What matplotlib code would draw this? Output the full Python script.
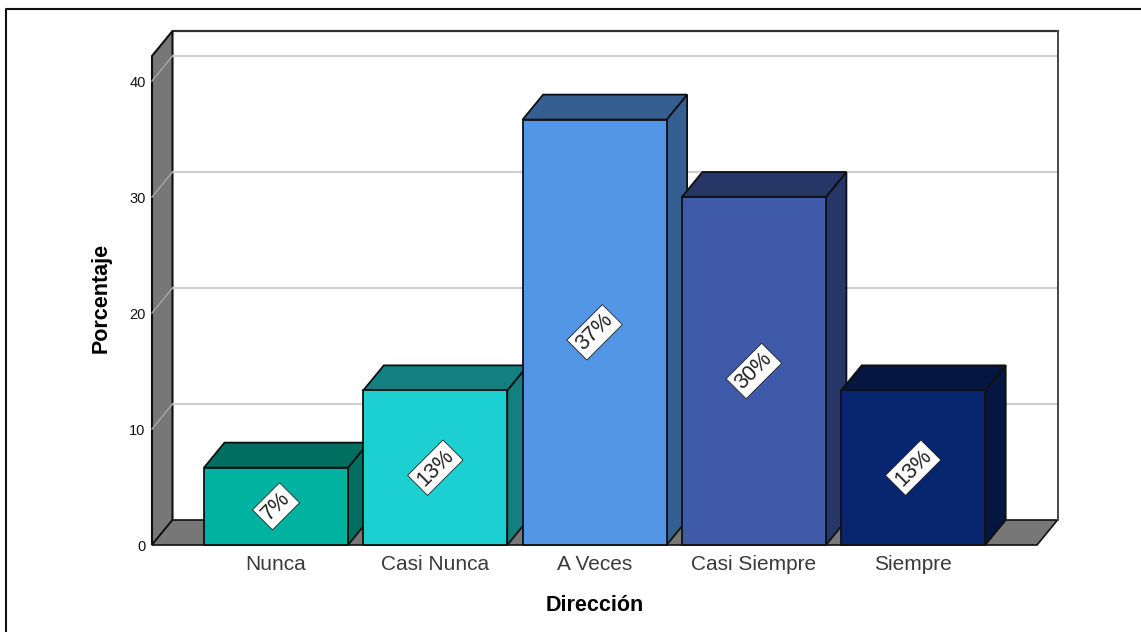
import matplotlib
matplotlib.use("Agg")
import matplotlib.pyplot as plt
from matplotlib.patches import Polygon, Rectangle
from matplotlib.transforms import ScaledTranslation

plt.rcParams["font.family"] = ["Liberation Sans", "DejaVu Sans"]

categories = ["Nunca", "Casi Nunca", "A Veces", "Casi Siempre", "Siempre"]
percentages = [6.67, 13.33, 36.67, 30.0, 13.33]
labels = ["7%", "13%", "37%", "30%", "13%"]
y_ticks = [0, 10, 20, 30, 40]
front_colors = ["#00b3a0", "#1ccfd0", "#5496e6", "#3f5aa8", "#08266f"]
top_colors = ["#006f62", "#128080", "#345f90", "#253667", "#051640"]
side_colors = ["#006f62", "#128080", "#345f90", "#253667", "#051640"]

W, H = 1141, 632
fig = plt.figure(figsize=(W / 100, H / 100), dpi=100, facecolor="white")

# Axes box spans the front plane of the chart, in pixel fractions
left_px, right_px, top_px, base_px = 152, 1037, 56, 545
ax = fig.add_axes([left_px / W, 1 - base_px / H, (right_px - left_px) / W, (base_px - top_px) / H])
px_per_cat = 159.3
px_per_unit = 11.6
ax.set_xlim((left_px - 276) / px_per_cat, (right_px - 276) / px_per_cat)
ax.set_ylim(0, (base_px - top_px) / px_per_unit)
for s in ax.spines.values():
    s.set_visible(False)
ax.patch.set_visible(False)

dx = 20.5 / px_per_cat
dy = 25 / px_per_unit
x0, x1 = ax.get_xlim()
y0, y1 = ax.get_ylim()
wall = "#777777"
edge = "#101010"


def add_poly(points, face, ec=edge, lw=1.3, z=1):
    ax.add_patch(Polygon(points, closed=True, facecolor=face, edgecolor=ec,
                         linewidth=lw, zorder=z, clip_on=False, joinstyle="miter"))


# Back wall, side wall and floor of the 3D box
ax.add_patch(Rectangle((x0 + dx, y0 + dy), x1 - x0, y1 - y0, facecolor="white",
                       edgecolor="none", zorder=0.5, clip_on=False))
ax.plot([x0 + dx, x1 + dx], [y1 + dy, y1 + dy], color="#303030", lw=1.6, zorder=1, clip_on=False)
ax.plot([x1 + dx, x1 + dx], [y0 + dy, y1 + dy], color="#484848", lw=1.4, zorder=1.3, clip_on=False)
add_poly([(x0, y0), (x0 + dx, y0 + dy), (x0 + dx, y1 + dy), (x0, y1)], wall, lw=1.5)
add_poly([(x0, y0), (x1, y0), (x1 + dx, y0 + dy), (x0 + dx, y0 + dy)], wall, lw=1.2)

# Gridlines run across the back wall and down the side wall
for t in y_ticks[1:]:
    ax.plot([x0 + dx, x1 + dx], [t + dy, t + dy], color="#d0d0d0", lw=1.6, zorder=1.2, clip_on=False)
    ax.plot([x0, x0 + dx], [t, t + dy], color="#a8a8a8", lw=1.0, zorder=1.2, clip_on=False)

# Bars, painted left to right so each one overlaps the side of the previous
width = 144 / px_per_cat
for i, v in enumerate(percentages):
    l, r = i - width / 2, i + width / 2
    z = 2 + i
    add_poly([(r, 0), (r + dx, dy), (r + dx, v + dy), (r, v)], side_colors[i], z=z)
    add_poly([(l, v), (r, v), (r + dx, v + dy), (l + dx, v + dy)], top_colors[i], z=z)
    add_poly([(l, 0), (r, 0), (r, v), (l, v)], front_colors[i], z=z)
    ax.text(i, v / 2, labels[i], rotation=45, ha="center", va="center",
            rotation_mode="anchor", fontsize=15.5, color="#222222", zorder=20,
            bbox=dict(boxstyle="square,pad=0.17", facecolor="white", edgecolor="#202020", linewidth=0.6))

ax.set_xticks(range(len(categories)), categories, fontsize=15, color="#3a3a3a")
ax.set_yticks(y_ticks, [str(t) for t in y_ticks], fontsize=10.5, color="#111111")
ax.tick_params(axis="both", length=0)
ax.tick_params(axis="x", pad=7.5)
ax.tick_params(axis="y", pad=4.5)
# Tick numbers sit slightly below their gridline ends
for lab in ax.get_yticklabels():
    lab.set_transform(lab.get_transform() + ScaledTranslation(0, -0.7 / 72, fig.dpi_scale_trans))
ax.set_xlabel("Dirección", fontsize=15.5, fontweight="bold", labelpad=15)
ax.set_ylabel("Porcentaje", fontsize=15.5, fontweight="bold", labelpad=12.5, y=0.505)

# Frame around the exported chart: top and left edges only
fig.add_artist(plt.Line2D([6 / W, 6 / W, 1], [0, 1 - 9 / H, 1 - 9 / H],
                          color="#111111", lw=1.5))

fig.savefig("out.png", dpi=100, facecolor="white")
